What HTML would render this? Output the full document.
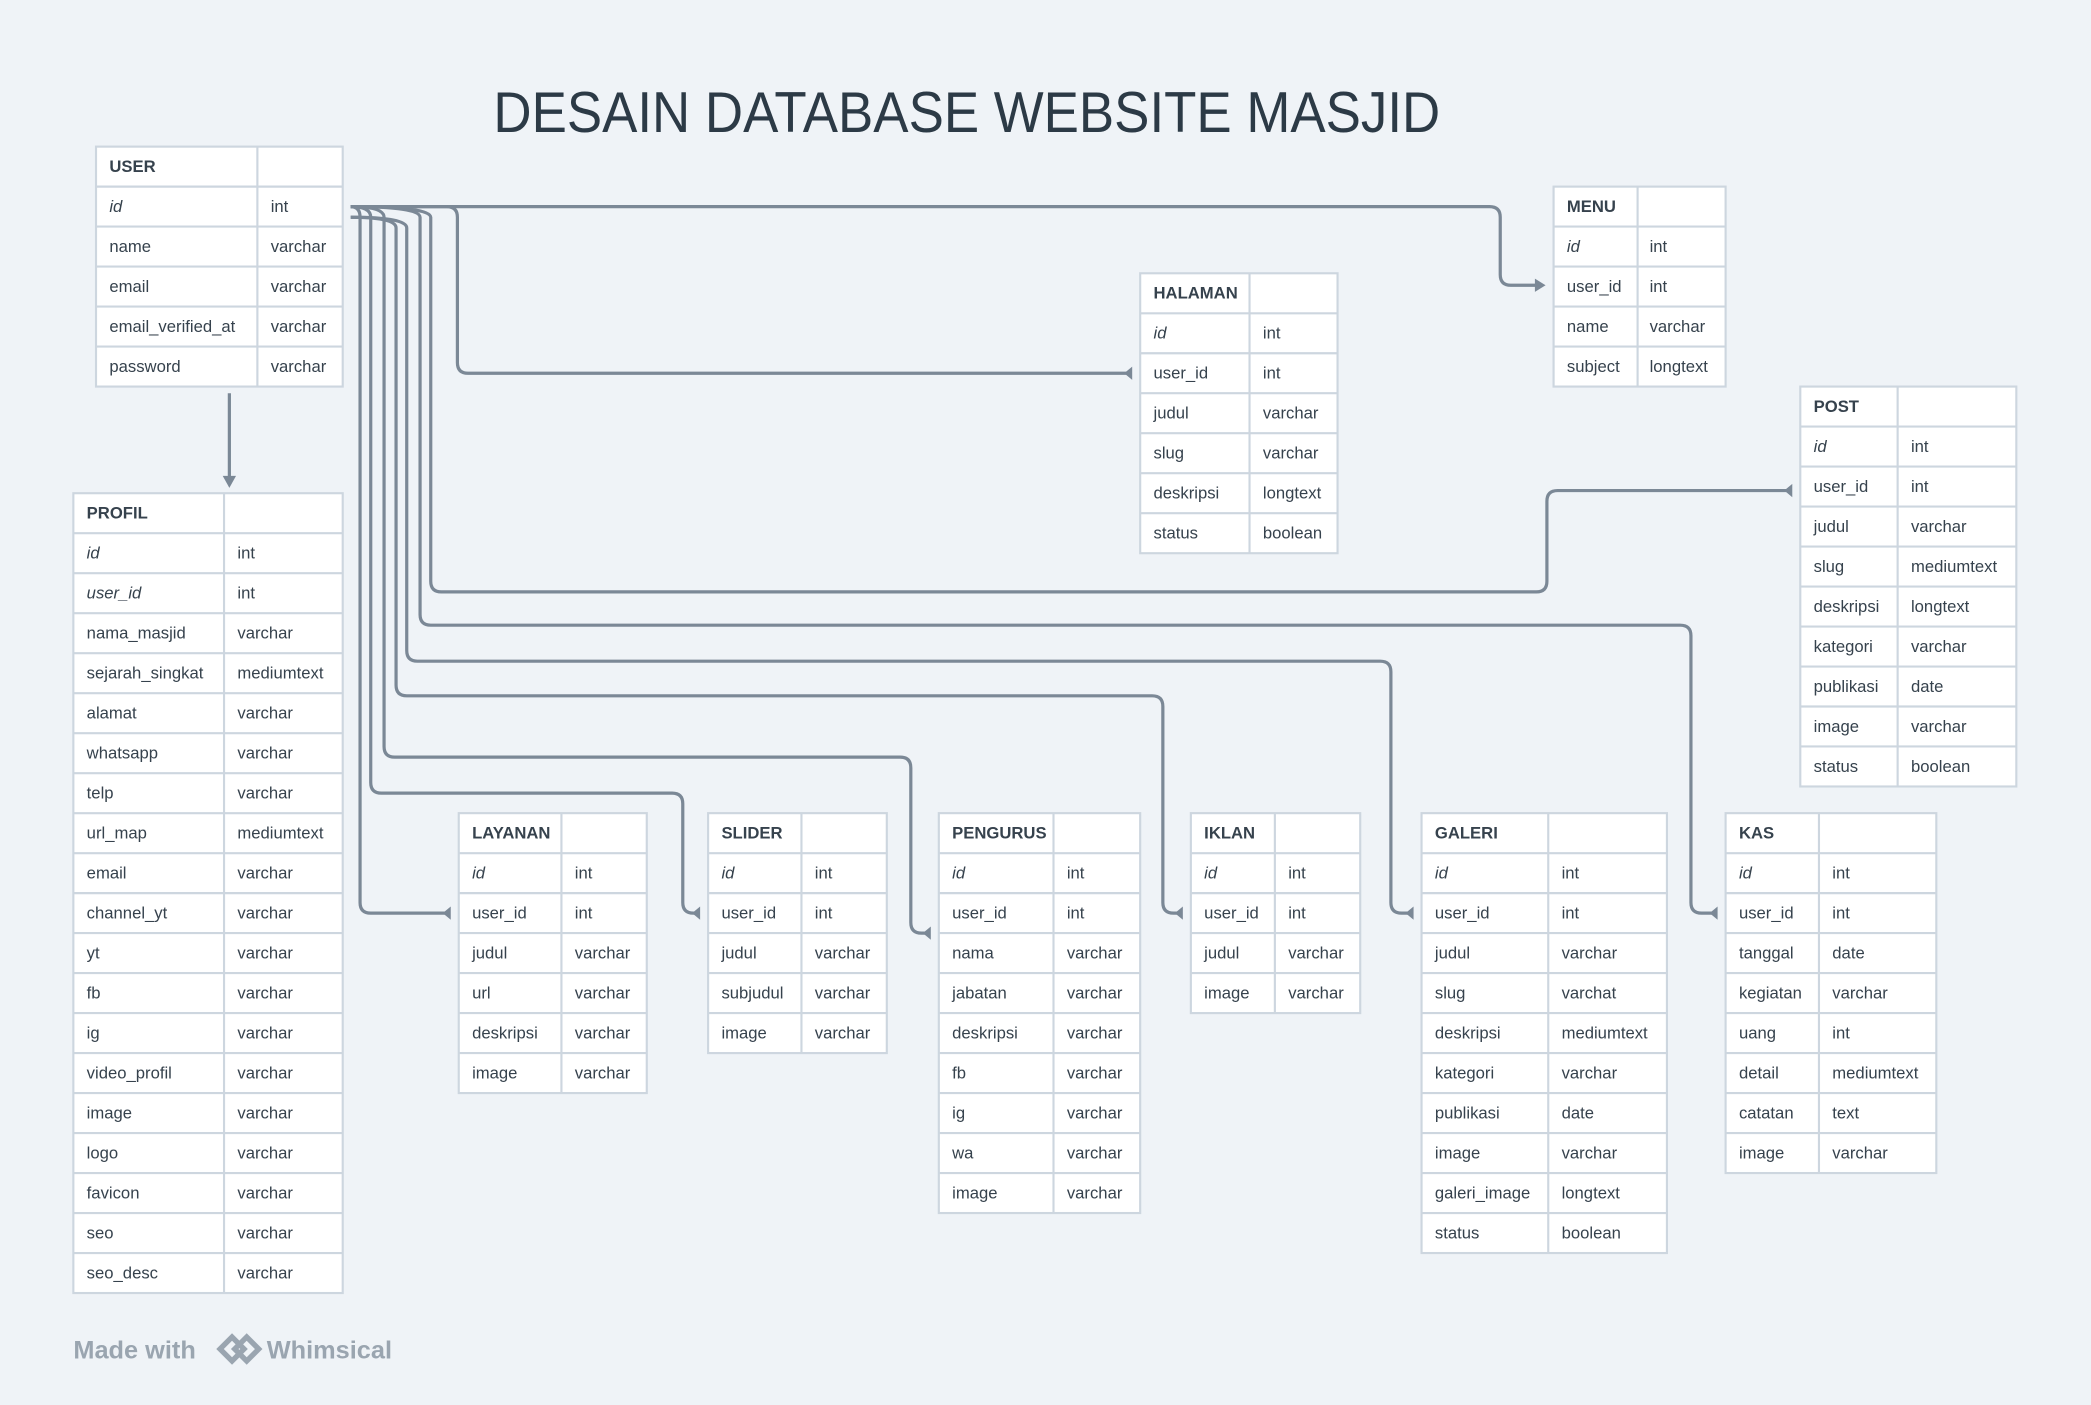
<!DOCTYPE html>
<html><head><meta charset="utf-8"><style>
html,body{margin:0;padding:0;background:#eff3f7;}
svg{display:block;}
text{font-family:"Liberation Sans Narrow","Liberation Sans",sans-serif;font-size:12.5px;fill:#36424d;}
.h{font-weight:bold;}
.i{font-style:italic;}
.tb rect{fill:#fff;stroke:#cdd6df;stroke-width:1.6;}
.tb path{stroke:#cdd6df;stroke-width:1.6;fill:none;}
.c{fill:none;stroke:#7b8896;stroke-width:2.4;}
.m{fill:#7b8896;}
</style></head><body>
<svg width="2091" height="1405" viewBox="0 0 1568 1054" preserveAspectRatio="none" xmlns="http://www.w3.org/2000/svg">
<rect x="0" y="0" width="1568" height="1054" fill="#eff3f7"/>
<text x="370" y="99" textLength="710" lengthAdjust="spacingAndGlyphs" style="font-family:'Liberation Sans','DejaVu Sans',sans-serif;font-size:43px;fill:#2c3a46">DESAIN DATABASE WEBSITE MASJID</text>

<!-- connectors -->
<path class="c" d="M172,295 V360"/>
<polygon class="m" points="172,366 167,357 177,357"/>
<path class="c" d="M263,155 H1117 Q1125,155 1125,163 V206 Q1125,214 1133,214 H1152"/>
<polygon class="m" points="1159,214 1151,209 1151,219"/>
<path class="c" d="M263,155 H335 Q343,155 343,163 V272 Q343,280 351,280 H848"/>
<polygon class="m" points="843,280 849,275 849,285"/>
<path class="c" d="M263,155 Q323,155 323,163 V436 Q323,444 331,444 H1152 Q1160,444 1160,436 V376 Q1160,368 1168,368 H1343"/>
<polygon class="m" points="1338,368 1344,363 1344,373"/>
<path class="c" d="M263,155 Q315,155 315,163 V461 Q315,469 323,469 H1260 Q1268,469 1268,477 V677 Q1268,685 1276,685 H1287"/>
<polygon class="m" points="1282,685 1288,680 1288,690"/>
<path class="c" d="M263,163 Q305,163 305,171 V488 Q305,496 313,496 H1035 Q1043,496 1043,504 V677 Q1043,685 1051,685 H1059"/>
<polygon class="m" points="1054,685 1060,680 1060,690"/>
<path class="c" d="M263,163 Q297,163 297,171 V514 Q297,522 305,522 H864 Q872,522 872,530 V677 Q872,685 880,685 H886"/>
<polygon class="m" points="881,685 887,680 887,690"/>
<path class="c" d="M263,155 Q288,155 288,163 V560 Q288,568 296,568 H675 Q683,568 683,576 V692 Q683,700 691,700 H697"/>
<polygon class="m" points="692,700 698,695 698,705"/>
<path class="c" d="M263,155 Q278,155 278,163 V587 Q278,595 286,595 H504 Q512,595 512,603 V677 Q512,685 520,685 H524"/>
<polygon class="m" points="519,685 525,680 525,690"/>
<path class="c" d="M263,155 Q270,155 270,163 V677 Q270,685 278,685 H337"/>
<polygon class="m" points="332,685 338,680 338,690"/>

<!-- USER -->
<g class="tb" transform="translate(72,110)">
<rect x="0" y="0" width="185" height="180"/>
<path d="M0,30H185M0,60H185M0,90H185M0,120H185M0,150H185M121,0V180"/>
<text x="10" y="19" class="h">USER</text>
<text x="10" y="49" class="i">id</text><text x="131" y="49">int</text>
<text x="10" y="79">name</text><text x="131" y="79">varchar</text>
<text x="10" y="109">email</text><text x="131" y="109">varchar</text>
<text x="10" y="139">email_verified_at</text><text x="131" y="139">varchar</text>
<text x="10" y="169">password</text><text x="131" y="169">varchar</text>
</g>

<!-- PROFIL -->
<g class="tb" transform="translate(55,370)">
<rect x="0" y="0" width="202" height="600"/>
<path d="M0,30H202M0,60H202M0,90H202M0,120H202M0,150H202M0,180H202M0,210H202M0,240H202M0,270H202M0,300H202M0,330H202M0,360H202M0,390H202M0,420H202M0,450H202M0,480H202M0,510H202M0,540H202M0,570H202M113,0V600"/>
<text x="10" y="19" class="h">PROFIL</text>
<text x="10" y="49" class="i">id</text><text x="123" y="49">int</text>
<text x="10" y="79" class="i">user_id</text><text x="123" y="79">int</text>
<text x="10" y="109">nama_masjid</text><text x="123" y="109">varchar</text>
<text x="10" y="139">sejarah_singkat</text><text x="123" y="139">mediumtext</text>
<text x="10" y="169">alamat</text><text x="123" y="169">varchar</text>
<text x="10" y="199">whatsapp</text><text x="123" y="199">varchar</text>
<text x="10" y="229">telp</text><text x="123" y="229">varchar</text>
<text x="10" y="259">url_map</text><text x="123" y="259">mediumtext</text>
<text x="10" y="289">email</text><text x="123" y="289">varchar</text>
<text x="10" y="319">channel_yt</text><text x="123" y="319">varchar</text>
<text x="10" y="349">yt</text><text x="123" y="349">varchar</text>
<text x="10" y="379">fb</text><text x="123" y="379">varchar</text>
<text x="10" y="409">ig</text><text x="123" y="409">varchar</text>
<text x="10" y="439">video_profil</text><text x="123" y="439">varchar</text>
<text x="10" y="469">image</text><text x="123" y="469">varchar</text>
<text x="10" y="499">logo</text><text x="123" y="499">varchar</text>
<text x="10" y="529">favicon</text><text x="123" y="529">varchar</text>
<text x="10" y="559">seo</text><text x="123" y="559">varchar</text>
<text x="10" y="589">seo_desc</text><text x="123" y="589">varchar</text>
</g>

<!-- HALAMAN -->
<g class="tb" transform="translate(855,205)">
<rect x="0" y="0" width="148" height="210"/>
<path d="M0,30H148M0,60H148M0,90H148M0,120H148M0,150H148M0,180H148M82,0V210"/>
<text x="10" y="19" class="h">HALAMAN</text>
<text x="10" y="49" class="i">id</text><text x="92" y="49">int</text>
<text x="10" y="79">user_id</text><text x="92" y="79">int</text>
<text x="10" y="109">judul</text><text x="92" y="109">varchar</text>
<text x="10" y="139">slug</text><text x="92" y="139">varchar</text>
<text x="10" y="169">deskripsi</text><text x="92" y="169">longtext</text>
<text x="10" y="199">status</text><text x="92" y="199">boolean</text>
</g>

<!-- MENU -->
<g class="tb" transform="translate(1165,140)">
<rect x="0" y="0" width="129" height="150"/>
<path d="M0,30H129M0,60H129M0,90H129M0,120H129M63,0V150"/>
<text x="10" y="19" class="h">MENU</text>
<text x="10" y="49" class="i">id</text><text x="72" y="49">int</text>
<text x="10" y="79">user_id</text><text x="72" y="79">int</text>
<text x="10" y="109">name</text><text x="72" y="109">varchar</text>
<text x="10" y="139">subject</text><text x="72" y="139">longtext</text>
</g>

<!-- POST -->
<g class="tb" transform="translate(1350,290)">
<rect x="0" y="0" width="162" height="300"/>
<path d="M0,30H162M0,60H162M0,90H162M0,120H162M0,150H162M0,180H162M0,210H162M0,240H162M0,270H162M73,0V300"/>
<text x="10" y="19" class="h">POST</text>
<text x="10" y="49" class="i">id</text><text x="83" y="49">int</text>
<text x="10" y="79">user_id</text><text x="83" y="79">int</text>
<text x="10" y="109">judul</text><text x="83" y="109">varchar</text>
<text x="10" y="139">slug</text><text x="83" y="139">mediumtext</text>
<text x="10" y="169">deskripsi</text><text x="83" y="169">longtext</text>
<text x="10" y="199">kategori</text><text x="83" y="199">varchar</text>
<text x="10" y="229">publikasi</text><text x="83" y="229">date</text>
<text x="10" y="259">image</text><text x="83" y="259">varchar</text>
<text x="10" y="289">status</text><text x="83" y="289">boolean</text>
</g>

<!-- LAYANAN -->
<g class="tb" transform="translate(344,610)">
<rect x="0" y="0" width="141" height="210"/>
<path d="M0,30H141M0,60H141M0,90H141M0,120H141M0,150H141M0,180H141M77,0V210"/>
<text x="10" y="19" class="h">LAYANAN</text>
<text x="10" y="49" class="i">id</text><text x="87" y="49">int</text>
<text x="10" y="79">user_id</text><text x="87" y="79">int</text>
<text x="10" y="109">judul</text><text x="87" y="109">varchar</text>
<text x="10" y="139">url</text><text x="87" y="139">varchar</text>
<text x="10" y="169">deskripsi</text><text x="87" y="169">varchar</text>
<text x="10" y="199">image</text><text x="87" y="199">varchar</text>
</g>

<!-- SLIDER -->
<g class="tb" transform="translate(531,610)">
<rect x="0" y="0" width="134" height="180"/>
<path d="M0,30H134M0,60H134M0,90H134M0,120H134M0,150H134M70,0V180"/>
<text x="10" y="19" class="h">SLIDER</text>
<text x="10" y="49" class="i">id</text><text x="80" y="49">int</text>
<text x="10" y="79">user_id</text><text x="80" y="79">int</text>
<text x="10" y="109">judul</text><text x="80" y="109">varchar</text>
<text x="10" y="139">subjudul</text><text x="80" y="139">varchar</text>
<text x="10" y="169">image</text><text x="80" y="169">varchar</text>
</g>

<!-- PENGURUS -->
<g class="tb" transform="translate(704,610)">
<rect x="0" y="0" width="151" height="300"/>
<path d="M0,30H151M0,60H151M0,90H151M0,120H151M0,150H151M0,180H151M0,210H151M0,240H151M0,270H151M86,0V300"/>
<text x="10" y="19" class="h">PENGURUS</text>
<text x="10" y="49" class="i">id</text><text x="96" y="49">int</text>
<text x="10" y="79">user_id</text><text x="96" y="79">int</text>
<text x="10" y="109">nama</text><text x="96" y="109">varchar</text>
<text x="10" y="139">jabatan</text><text x="96" y="139">varchar</text>
<text x="10" y="169">deskripsi</text><text x="96" y="169">varchar</text>
<text x="10" y="199">fb</text><text x="96" y="199">varchar</text>
<text x="10" y="229">ig</text><text x="96" y="229">varchar</text>
<text x="10" y="259">wa</text><text x="96" y="259">varchar</text>
<text x="10" y="289">image</text><text x="96" y="289">varchar</text>
</g>

<!-- IKLAN -->
<g class="tb" transform="translate(893,610)">
<rect x="0" y="0" width="127" height="150"/>
<path d="M0,30H127M0,60H127M0,90H127M0,120H127M63,0V150"/>
<text x="10" y="19" class="h">IKLAN</text>
<text x="10" y="49" class="i">id</text><text x="73" y="49">int</text>
<text x="10" y="79">user_id</text><text x="73" y="79">int</text>
<text x="10" y="109">judul</text><text x="73" y="109">varchar</text>
<text x="10" y="139">image</text><text x="73" y="139">varchar</text>
</g>

<!-- GALERI -->
<g class="tb" transform="translate(1066,610)">
<rect x="0" y="0" width="184" height="330"/>
<path d="M0,30H184M0,60H184M0,90H184M0,120H184M0,150H184M0,180H184M0,210H184M0,240H184M0,270H184M0,300H184M95,0V330"/>
<text x="10" y="19" class="h">GALERI</text>
<text x="10" y="49" class="i">id</text><text x="105" y="49">int</text>
<text x="10" y="79">user_id</text><text x="105" y="79">int</text>
<text x="10" y="109">judul</text><text x="105" y="109">varchar</text>
<text x="10" y="139">slug</text><text x="105" y="139">varchat</text>
<text x="10" y="169">deskripsi</text><text x="105" y="169">mediumtext</text>
<text x="10" y="199">kategori</text><text x="105" y="199">varchar</text>
<text x="10" y="229">publikasi</text><text x="105" y="229">date</text>
<text x="10" y="259">image</text><text x="105" y="259">varchar</text>
<text x="10" y="289">galeri_image</text><text x="105" y="289">longtext</text>
<text x="10" y="319">status</text><text x="105" y="319">boolean</text>
</g>

<!-- KAS -->
<g class="tb" transform="translate(1294,610)">
<rect x="0" y="0" width="158" height="270"/>
<path d="M0,30H158M0,60H158M0,90H158M0,120H158M0,150H158M0,180H158M0,210H158M0,240H158M70,0V270"/>
<text x="10" y="19" class="h">KAS</text>
<text x="10" y="49" class="i">id</text><text x="80" y="49">int</text>
<text x="10" y="79">user_id</text><text x="80" y="79">int</text>
<text x="10" y="109">tanggal</text><text x="80" y="109">date</text>
<text x="10" y="139">kegiatan</text><text x="80" y="139">varchar</text>
<text x="10" y="169">uang</text><text x="80" y="169">int</text>
<text x="10" y="199">detail</text><text x="80" y="199">mediumtext</text>
<text x="10" y="229">catatan</text><text x="80" y="229">text</text>
<text x="10" y="259">image</text><text x="80" y="259">varchar</text>
</g>

<!-- watermark -->
<text x="55" y="1019" style="font-family:'Liberation Sans',sans-serif;font-size:19px;font-weight:bold;fill:#9aa5b0">Made with</text>
<polygon points="165,1012 174,1003 183,1012 174,1021" fill="none" stroke="#9aa5b0" stroke-width="4"/>
<polygon points="176,1012 185,1003 194,1012 185,1021" fill="none" stroke="#9aa5b0" stroke-width="4"/>
<text x="200" y="1019" style="font-family:'Liberation Sans',sans-serif;font-size:19px;font-weight:bold;fill:#9aa5b0">Whimsical</text>
</svg>
</body></html>
